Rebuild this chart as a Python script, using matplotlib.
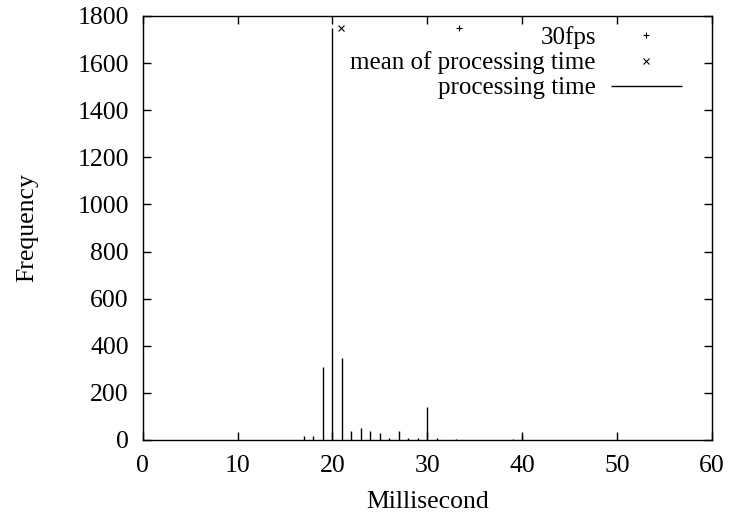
import matplotlib
matplotlib.use("Agg")
import matplotlib.pyplot as plt

# processing time histogram (ms -> count)
ms = [17, 18, 19, 20, 21, 22, 23, 24, 25, 26, 27, 28, 29, 30, 31, 33, 39, 40]
freq = [18, 18, 310, 1750, 350, 40, 50, 40, 28, 10, 40, 10, 10, 138, 8, 5, 5, 22]

fps30_x = [1000 / 30]
fps30_y = [1750]
mean_x = [20.87]
mean_y = [1750]

plt.rcParams["font.family"] = ["Liberation Serif", "DejaVu Serif"]
plt.rcParams["font.size"] = 18.5

fig = plt.figure(figsize=(7.3, 5.15), dpi=100)
ax = fig.add_axes([142.7 / 730, 1 - 440 / 515, (712 - 142.7) / 730, 424 / 515])

ax.plot(fps30_x, fps30_y, "+", color="black", markersize=5, markeredgewidth=0.8,
        linestyle="none", label="30fps")
ax.plot(mean_x, mean_y, "x", color="black", markersize=4, markeredgewidth=0.8,
        linestyle="none", label="mean of processing time")
ax.vlines(ms, 0, freq, color="black", linewidth=1.0, label="processing time")

ax.set_xlim(0, 60)
ax.set_ylim(0, 1800)
ax.set_xticks(range(0, 61, 10))
ax.set_yticks(range(0, 1801, 200))
ax.tick_params(direction="in", top=True, right=True, length=6, width=1)
ax.tick_params(axis="x", pad=11)
ax.tick_params(axis="y", pad=10)
for s in ax.spines.values():
    s.set_linewidth(1.0)

ax.set_xlabel("Millisecond", labelpad=10)
ax.set_ylabel("Frequency", labelpad=28)

# gnuplot-like key: text right-aligned, sample on the right
ax.legend(loc="upper right", bbox_to_anchor=(1 - 30 / 569.3, 1 - 10 / 424),
          frameon=False, markerfirst=False, handlelength=2.85, handletextpad=0.6,
          labelspacing=0.1, borderpad=0, borderaxespad=0, fontsize=18)

fig.savefig("out.png", dpi=100)
